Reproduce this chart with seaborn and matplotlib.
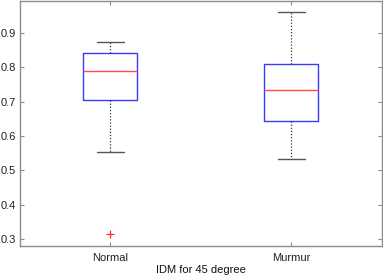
import matplotlib
matplotlib.use("Agg")
import matplotlib.pyplot as plt
import pandas as pd
import seaborn as sns

# ── Data (repeated values pin the quartiles) ────────────────────────────────
groups = ["Normal", "Murmur"]
normal_vals = [0.3145, 0.553, 0.704, 0.704, 0.790, 0.841, 0.841, 0.874, 0.874]
murmur_vals = [0.534, 0.645, 0.733, 0.810, 0.961]
y_ticks = [0.3, 0.4, 0.5, 0.6, 0.7, 0.8, 0.9]

df = pd.DataFrame({
    "group": [groups[0]] * len(normal_vals) + [groups[1]] * len(murmur_vals),
    "idm": normal_vals + murmur_vals,
})

# ── Style ───────────────────────────────────────────────────────────────────
sns.set_theme(style="ticks")
plt.rcParams["font.family"] = ["Liberation Sans", "DejaVu Sans"]
plt.rcParams["font.size"] = 8

fig = plt.figure(figsize=(3.83, 2.76), dpi=100)
ax = fig.add_axes([20 / 383, 1 - 245.7 / 276, 361.5 / 383, 245.2 / 276])

sns.boxplot(
    data=df, x="group", y="idm", order=groups, ax=ax,
    width=0.3, fill=False, whis=1.5,
    boxprops=dict(color="#3b3bff", linewidth=1.0),
    medianprops=dict(color="#ff4b4b", linewidth=1.0),
    whiskerprops=dict(color="#333333", linestyle=(0, (1, 1.5)), linewidth=0.9),
    capprops=dict(color="#555555", linewidth=1.0),
    flierprops=dict(marker="+", markeredgecolor="#ff3030", markersize=6,
                    markeredgewidth=0.9),
)

ax.set_xlim(-0.5, 1.5)
ax.set_ylim(0.281, 0.995)
ax.set_yticks(y_ticks)
ax.set_yticklabels([f"{t:.1f}" for t in y_ticks])
ax.set_xlabel("IDM for 45 degree", fontsize=8, color="#111111", labelpad=2)
ax.set_ylabel("")

for side in ["left", "right", "top", "bottom"]:
    ax.spines[side].set_visible(True)
    ax.spines[side].set_color("#8c8c8c")
    ax.spines[side].set_linewidth(1.0)

ax.tick_params(axis="both", direction="in", length=3, width=0.8,
               color="#8c8c8c", labelsize=8, labelcolor="#222222",
               top=True, right=True, pad=3)
ax.tick_params(axis="x", pad=5)

fig.savefig("out.png", dpi=100)
